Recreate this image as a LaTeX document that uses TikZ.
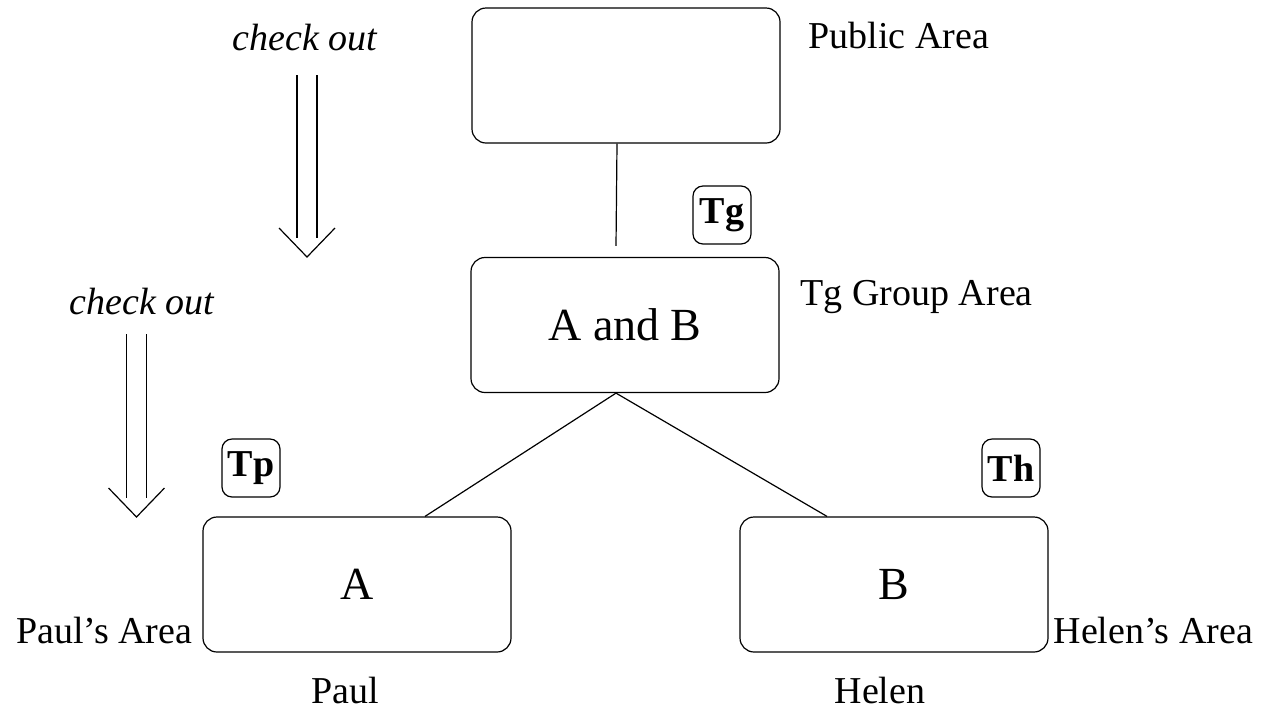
\documentclass[tikz,border=0pt]{standalone}
\usepackage{fontspec}
\setmainfont{Liberation Serif}
\tikzset{
  area/.style={draw, rounded corners=7pt, minimum width=154pt, minimum height=67.5pt, inner sep=0pt},
  tag/.style={draw, rounded corners=5pt, minimum size=29pt, inner sep=0pt, font=\fontsize{19}{23}\selectfont\bfseries},
  lbl/.style={inner sep=0pt}
}
\begin{document}
\begin{tikzpicture}[x=0.5pt, y=-0.5pt, line width=0.6pt, font=\fontsize{19}{23}\selectfont]
\useasboundingbox (0,0) rectangle (1273,713);
\node[area] (pub) at (626,75.5){};
\node[area, font=\fontsize{23}{28}\selectfont] (grp) at (625,325){A and B};
\node[area, font=\fontsize{23}{28}\selectfont] (pa) at (357,584.5){A};
\node[area, font=\fontsize{23}{28}\selectfont] (ha) at (894,584.5){B};
\node[tag] (tg) at (722,215){Tg};
\node[tag] (tp) at (251,468){Tp};
\node[tag] (th) at (1011,468){Th};
\node[lbl, anchor=west] (publbl) at (808,35){Public Area};
\node[lbl, anchor=west] (grplbl) at (800,297){Tg Group Area};
\node[lbl, anchor=east] (palbl) at (193,630){Paul's Area};
\node[lbl, anchor=west] (halbl) at (1053,630){Helen's Area};
\node[lbl] (paul) at (345,690){Paul};
\node[lbl] (helen) at (880,690){Helen};
\node[lbl, font=\fontsize{19}{23}\selectfont\itshape] (co1) at (305,38){check out};
\node[lbl, font=\fontsize{19}{23}\selectfont\itshape] (co2) at (142,302){check out};
\coordinate (top1) at (307,75);
\coordinate (tip1) at (307,257);
\coordinate (top2) at (136.5,334);
\coordinate (tip2) at (136.5,517);
\draw ([xshift=-4.5pt]pub.south) -- ([xshift=-4.5pt, yshift=5.5pt]grp.north);
\draw ([xshift=-4.5pt]grp.south) -- ([xshift=34pt]pa.north);
\draw ([xshift=-4.5pt]grp.south) -- ([xshift=-33.5pt]ha.north);
% check out arrows
\foreach \i in {1,2}{
  \draw ([xshift=-5pt]top\i) -- ([xshift=-5pt, yshift=9.5pt]tip\i);
  \draw ([xshift=5pt]top\i) -- ([xshift=5pt, yshift=9.5pt]tip\i);
  \draw ([xshift=-14pt, yshift=14.5pt]tip\i) -- (tip\i) -- ([xshift=14pt, yshift=14.5pt]tip\i);
}
\end{tikzpicture}
\end{document}
